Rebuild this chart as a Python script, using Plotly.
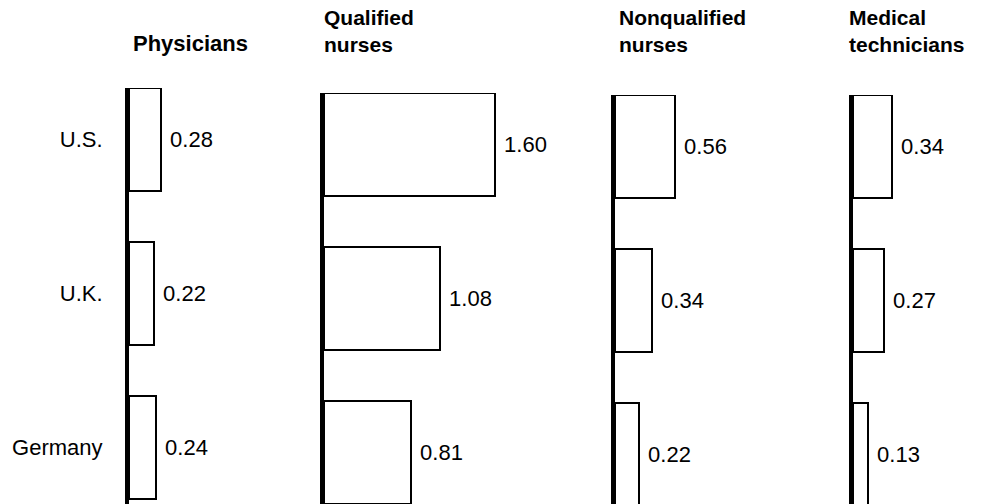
import plotly.graph_objects as go

# ---- data ----
countries = ["U.S.", "U.K.", "Germany"]
panel_titles = ["Physicians", "Qualified<br>nurses", "Nonqualified<br>nurses", "Medical<br>technicians"]
physicians = [0.28, 0.22, 0.24]
qualified_nurses = [1.60, 1.08, 0.81]
nonqualified_nurses = [0.56, 0.34, 0.22]
medical_technicians = [0.34, 0.27, 0.13]
series = [physicians, qualified_nurses, nonqualified_nurses, medical_technicians]

# ---- layout geometry (pixels) ----
W, H = 981, 504
axis_px = [129, 324, 615, 853]
right_px = [318, 608, 846, 981]
px_per_unit = [114, 107, 108, 115]
top_px = [88, 93, 95, 95]
row_px = 154
half = 0.335
title_x_px = [131, 322, 617, 847]
title_bottom_px = 58

FONT = "Liberation Sans, Arial, Helvetica, sans-serif"
ypos = list(range(len(countries)))

fig = go.Figure()
layout_axes = {}
annotations = []
for i, vals in enumerate(series):
    n = "" if i == 0 else str(i + 1)
    fig.add_trace(go.Bar(
        x=vals, y=ypos, orientation="h", width=2 * half,
        marker=dict(color="white", line=dict(color="black", width=2)),
        texttemplate="\u00a0%{x:.2f}", textposition="outside",
        textfont=dict(family=FONT, size=22, color="black"),
        constraintext="none", cliponaxis=False,
        xaxis="x" + n, yaxis="y" + n, showlegend=False, hoverinfo="skip",
    ))
    a, r = axis_px[i], right_px[i]
    layout_axes["xaxis" + n] = dict(
        domain=[a / W, r / W], range=[0, (r - a) / px_per_unit[i]],
        visible=False, anchor="y" + n, fixedrange=True,
    )
    span = (H - top_px[i]) / row_px
    layout_axes["yaxis" + n] = dict(
        domain=[0, (H - top_px[i]) / H], range=[-half + span, -half],
        anchor="x" + n, showline=True, linecolor="black", linewidth=4,
        showgrid=False, zeroline=False, ticks="",
        tickvals=ypos, ticktext=countries if i == 0 else [""] * len(countries),
        showticklabels=(i == 0), ticklabelstandoff=18,
        tickfont=dict(family=FONT, size=22, color="black"),
        fixedrange=True,
    )
    annotations.append(dict(
        text="<b>" + panel_titles[i].replace("<br>", "</b><br><b>") + "</b>",
        xref="paper", yref="paper", x=title_x_px[i] / W, y=1 - title_bottom_px / H,
        xanchor="left", yanchor="bottom", align="left", showarrow=False,
        font=dict(family=FONT, size=22 if i == 0 else 21, color="black"),
    ))

fig.update_layout(
    width=W, height=H, autosize=False,
    margin=dict(l=0, r=0, t=0, b=0, pad=0),
    paper_bgcolor="white", plot_bgcolor="white",
    annotations=annotations, bargap=0,
    **layout_axes,
)
fig.write_html("out.html", config={"displayModeBar": False},
               post_script="document.body.style.margin='0px';document.body.style.overflow='hidden';")
